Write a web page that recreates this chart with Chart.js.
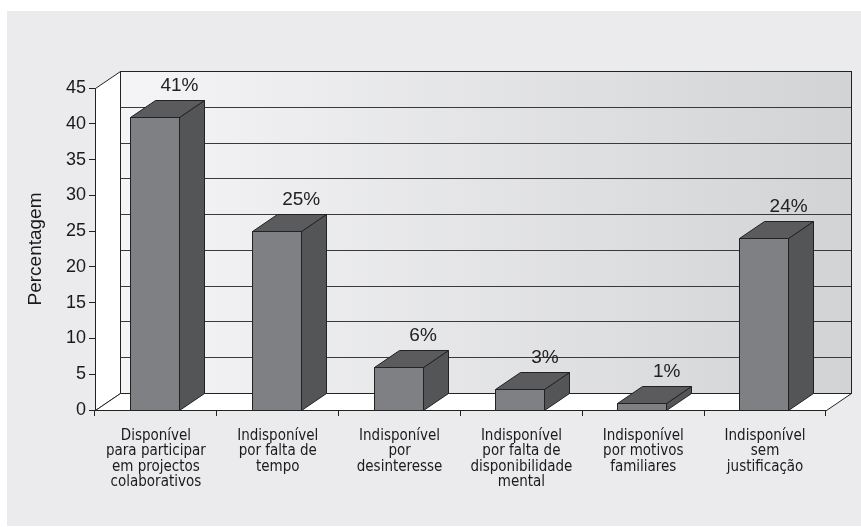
<!DOCTYPE html>
<html><head><meta charset="utf-8">
<script src="https://cdn.jsdelivr.net/npm/chart.js@4/dist/chart.umd.min.js"></script>
<style>html,body{margin:0;padding:0;background:#fff}#wrap{width:861px;height:527px}</style>
</head><body><div id="wrap"><canvas id="c" width="861" height="527"></canvas></div>
<script>
const categories = [
  ["Disponível","para participar","em projectos","colaborativos"],
  ["Indisponível","por falta de","tempo"],
  ["Indisponível","por","desinteresse"],
  ["Indisponível","por falta de","disponibilidade","mental"],
  ["Indisponível","por motivos","familiares"],
  ["Indisponível","sem","justificação"]
];
const percentages = [41, 25, 6, 3, 1, 24];
const valueLabels = ["41%","25%","6%","3%","1%","24%"];
const yTicks = [0,5,10,15,20,25,30,35,40,45];

const DX = 25, DY = -17;
const tickFont = "Liberation Sans, Arial, sans-serif";
const catFont = "'Liberation Sans Narrow', 'DejaVu Sans Condensed', sans-serif";

const scene = {
  id: 'scene',
  beforeDraw(chart) {
    const c = chart.ctx;
    c.save();
    c.fillStyle = '#ffffff';
    c.fillRect(0, 0, chart.width, chart.height);
    c.fillStyle = '#ebebed';
    c.fillRect(7, 11, chart.width - 7, 515);
    c.restore();
  },
  beforeDatasetsDraw(chart) {
    const c = chart.ctx, a = chart.chartArea, ys = chart.scales.y;
    const L = Math.round(a.left) + 0.5, R = Math.round(a.right) + 0.5;
    const T = Math.round(a.top) + 0.5, B = Math.round(a.bottom) + 0.5;
    c.save();
    c.lineWidth = 1;
    c.strokeStyle = '#222';
    const g = c.createLinearGradient(L + DX, 0, R + DX, 0);
    g.addColorStop(0, '#f5f5f7');
    g.addColorStop(1, '#d2d3d5');
    c.fillStyle = g;
    c.fillRect(L + DX, T + DY, R - L, B - T);
    c.strokeStyle = '#3a3a3a';
    yTicks.forEach(v => {
      const y = Math.round(ys.getPixelForValue(v)) + 0.5 + DY;
      c.beginPath(); c.moveTo(L + DX, y); c.lineTo(R + DX, y); c.stroke();
    });
    c.strokeStyle = '#222';
    c.strokeRect(L + DX, T + DY, R - L, B - T);
    c.fillStyle = '#ffffff';
    c.beginPath();
    c.moveTo(L, T); c.lineTo(L + DX, T + DY); c.lineTo(L + DX, B + DY); c.lineTo(L, B); c.closePath();
    c.fill(); c.stroke();
    c.beginPath();
    c.moveTo(L, B); c.lineTo(L + DX, B + DY); c.lineTo(R + DX, B + DY); c.lineTo(R, B); c.closePath();
    c.fill(); c.stroke();
    c.restore();
  },
  afterDatasetsDraw(chart) {
    const c = chart.ctx, meta = chart.getDatasetMeta(0);
    c.save();
    c.lineWidth = 1;
    c.strokeStyle = '#222';
    c.lineJoin = 'round';
    meta.data.forEach((bar, i) => {
      const p = bar.getProps(['x', 'y', 'base', 'width'], true);
      const cx = p.x - 1.5;
      const x0 = Math.round(cx - p.width / 2) + 0.5, x1 = Math.round(cx + p.width / 2) + 0.5;
      const yt = Math.round(p.y) + 0.5, yb = Math.round(p.base) + 0.5;
      c.fillStyle = '#7f8083';
      c.fillRect(x0, yt, x1 - x0, yb - yt);
      c.fillStyle = '#545557';
      c.beginPath();
      c.moveTo(x1, yt); c.lineTo(x1 + DX, yt + DY); c.lineTo(x1 + DX, yb + DY); c.lineTo(x1, yb); c.closePath();
      c.fill(); c.stroke();
      c.fillStyle = '#5b5b5d';
      c.beginPath();
      c.moveTo(x0, yt); c.lineTo(x0 + DX, yt + DY); c.lineTo(x1 + DX, yt + DY); c.lineTo(x1, yt); c.closePath();
      c.fill(); c.stroke();
      c.strokeRect(x0, yt, x1 - x0, yb - yt);
      c.fillStyle = '#222';
      c.font = '19px ' + tickFont;
      c.textAlign = 'center';
      c.textBaseline = 'middle';
      c.fillText(valueLabels[i], cx + DX, yt + DY - 15);
    });
    c.restore();
  }
};

new Chart(document.getElementById('c'), {
  type: 'bar',
  data: {
    labels: categories,
    datasets: [{
      data: percentages,
      backgroundColor: 'rgba(0,0,0,0)',
      borderWidth: 0,
      categoryPercentage: 1,
      barPercentage: 0.402
    }]
  },
  options: {
    responsive: false,
    animation: false,
    events: [],
    layout: { padding: { left: 0, right: 35, top: 88, bottom: 0 } },
    plugins: { legend: { display: false }, tooltip: { enabled: false } },
    scales: {
      x: {
        grid: { offset: true, drawOnChartArea: false, tickLength: 6, color: '#222' },
        border: { display: true, color: '#222' },
        ticks: { color: '#1a1a1a', font: { family: catFont, size: 15, lineHeight: 1.04 }, padding: 12, maxRotation: 0, autoSkip: false },
        afterFit(s) { s.height = 117; }
      },
      y: {
        min: 0, max: 45,
        grid: { drawOnChartArea: false, tickLength: 6, color: '#222' },
        border: { display: true, color: '#222' },
        ticks: { stepSize: 5, color: '#1a1a1a', font: { family: tickFont, size: 18 }, padding: 3 },
        title: { display: true, text: 'Percentagem', color: '#1a1a1a', font: { family: tickFont, size: 19 }, padding: { top: 24, bottom: 0 } },
        afterFit(s) { s.width = 95; }
      }
    }
  },
  plugins: [scene]
});
</script>
</body></html>
